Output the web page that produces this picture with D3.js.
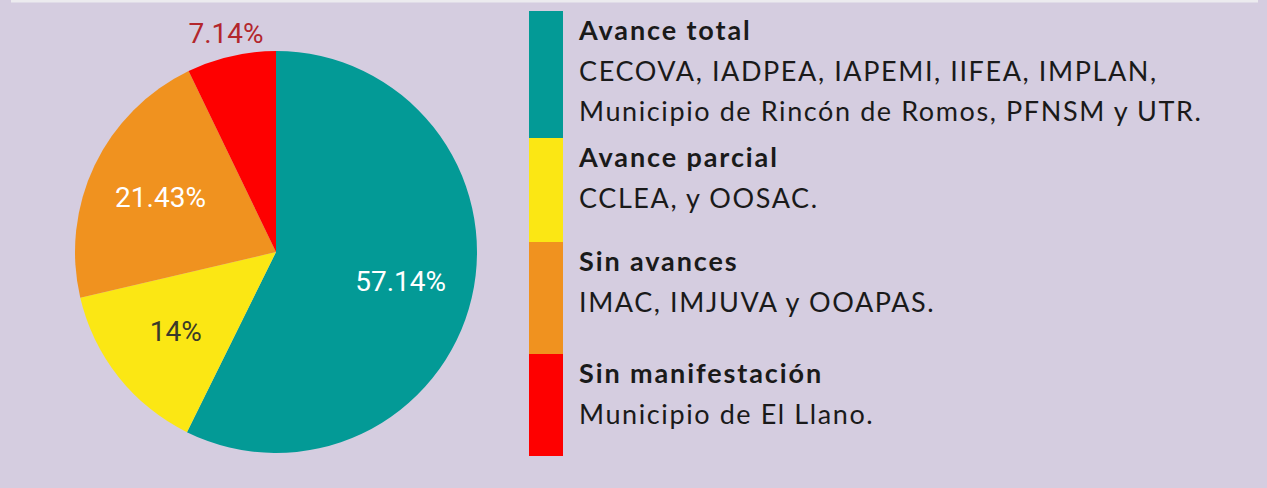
<!DOCTYPE html>
<html>
<head>
<meta charset="utf-8">
<script src="https://cdn.jsdelivr.net/npm/d3@7"></script>
<style>
  html, body { margin: 0; padding: 0; background: #d5cde0; }
  svg { display: block; }
</style>
</head>
<body>
<script>
// datos del grafico
var categorias = ["Avance total", "Avance parcial", "Sin avances", "Sin manifestación"];
var valores = [57.14, 14, 21.43, 7.14];
var etiquetas = ["57.14%", "14%", "21.43%", "7.14%"];
var colores = ["#039a96", "#fbe714", "#f0921f", "#fe0000"];
var detalle = [
  ["CECOVA, IADPEA, IAPEMI, IIFEA, IMPLAN,", "Municipio de Rincón de Romos, PFNSM y UTR."],
  ["CCLEA, y OOSAC."],
  ["IMAC, IMJUVA y OOAPAS."],
  ["Municipio de El Llano."]
];

var width = 1267, height = 488;
var cx = 276, cy = 252, radio = 201;

var svg = d3.select("body").append("svg")
  .attr("width", width)
  .attr("height", height);

svg.append("rect")
  .attr("width", width).attr("height", height)
  .attr("fill", "#d5cde0");

// franja clara de arriba
svg.append("rect")
  .attr("x", 11).attr("y", 0)
  .attr("width", 1247).attr("height", 2.5)
  .attr("fill", "#ecebef");

var pie = d3.pie().sort(null).value(function(d) { return d; });
var arcos = pie(valores);

var arc = d3.arc().innerRadius(0).outerRadius(radio);
var arcEtiqueta = d3.arc().innerRadius(128).outerRadius(128);
var arcFuera = d3.arc().innerRadius(224).outerRadius(224);

var g = svg.append("g").attr("transform", "translate(" + cx + "," + cy + ")");

g.selectAll("path")
  .data(arcos)
  .enter()
  .append("path")
  .attr("d", arc)
  .attr("fill", function(d, i) { return colores[i]; });

var colorEtiqueta = ["#ffffff", "#3a3a2a", "#ffffff", "#b3262c"];

g.selectAll("text")
  .data(arcos)
  .enter()
  .append("text")
  .attr("transform", function(d, i) {
    var c = (i === 3 ? arcFuera : arcEtiqueta).centroid(d);
    return "translate(" + c[0] + "," + c[1] + ")";
  })
  .attr("dy", "0.35em")
  .attr("text-anchor", "middle")
  .attr("font-family", "Roboto, sans-serif")
  .attr("font-size", 28)
  .attr("fill", function(d, i) { return colorEtiqueta[i]; })
  .text(function(d, i) { return etiquetas[i]; });

// leyenda
var altoGrupo = [127, 104, 112, 102];
var leyendaX = 529, leyendaY = 11;
var tops = [];
var acum = leyendaY;
altoGrupo.forEach(function(h) { tops.push(acum); acum += h; });

var leyenda = svg.append("g");

leyenda.selectAll("rect")
  .data(categorias)
  .enter()
  .append("rect")
  .attr("x", leyendaX)
  .attr("y", function(d, i) { return tops[i]; })
  .attr("width", 34)
  .attr("height", function(d, i) { return altoGrupo[i]; })
  .attr("fill", function(d, i) { return colores[i]; });

var grupos = leyenda.selectAll("g.item")
  .data(categorias)
  .enter()
  .append("g")
  .attr("class", "item")
  .attr("transform", function(d, i) { return "translate(579," + tops[i] + ")"; });

grupos.append("text")
  .attr("y", 29)
  .attr("font-family", "Lato, sans-serif")
  .attr("font-weight", "bold")
  .attr("font-size", 27)
  .attr("letter-spacing", 1.9)
  .attr("fill", "#1a1a1a")
  .text(function(d) { return d; });

grupos.each(function(d, i) {
  var sel = d3.select(this);
  detalle[i].forEach(function(linea, j) {
    sel.append("text")
      .attr("y", 70 + j * 40)
      .attr("font-family", "Lato, sans-serif")
      .attr("font-size", 27)
      .attr("letter-spacing", 1.6)
      .attr("fill", "#1a1a1a")
      .text(linea);
  });
});
</script>
</body>
</html>
